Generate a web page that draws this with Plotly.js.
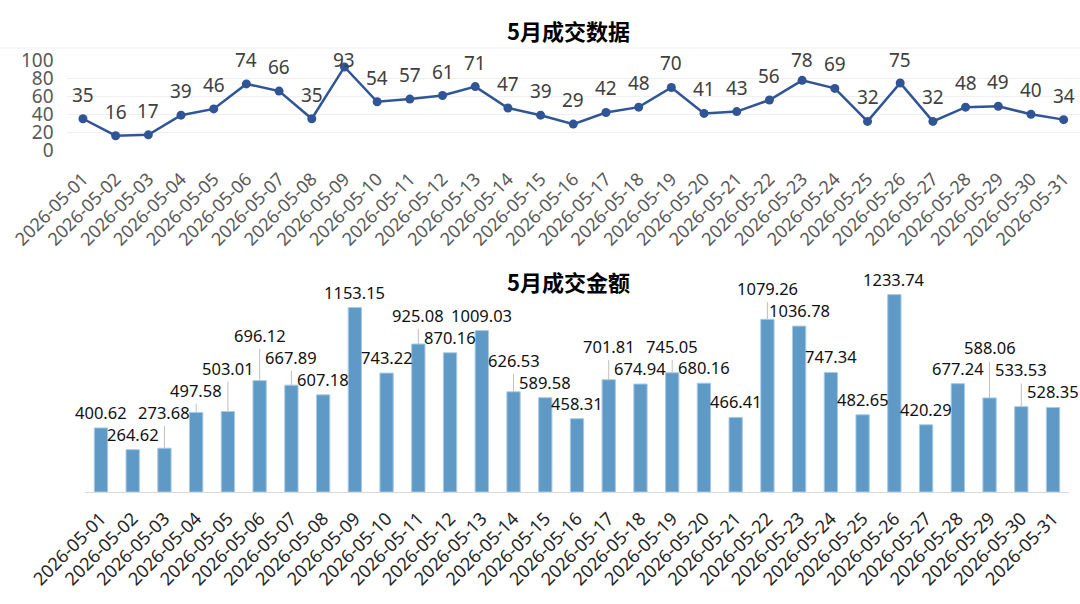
<!DOCTYPE html>
<html>
<head>
<meta charset="utf-8">
<script src="https://cdn.plot.ly/plotly-3.0.1.min.js"></script>
<style>html,body{margin:0;padding:0;background:#fff;}#chart{width:1080px;height:604px;}</style>
</head>
<body>
<div id="chart"></div>
<script>
const dates = ["2026-05-01","2026-05-02","2026-05-03","2026-05-04","2026-05-05","2026-05-06","2026-05-07","2026-05-08","2026-05-09","2026-05-10","2026-05-11","2026-05-12","2026-05-13","2026-05-14","2026-05-15","2026-05-16","2026-05-17","2026-05-18","2026-05-19","2026-05-20","2026-05-21","2026-05-22","2026-05-23","2026-05-24","2026-05-25","2026-05-26","2026-05-27","2026-05-28","2026-05-29","2026-05-30","2026-05-31"];
const counts = [35,16,17,39,46,74,66,35,93,54,57,61,71,47,39,29,42,48,70,41,43,56,78,69,32,75,32,48,49,40,34];
const amounts = [400.62,264.62,273.68,497.58,503.01,696.12,667.89,607.18,1153.15,743.22,925.08,870.16,1009.03,626.53,589.58,458.31,701.81,674.94,745.05,680.16,466.41,1079.26,1036.78,747.34,482.65,1233.74,420.29,677.24,588.06,533.53,528.35];
const yTicks = [0,20,40,60,80,100];
const topTitle = "5月成交数据";
const bottomTitle = "5月成交金额";

const W = 1080, H = 604;
const fontNum = '"Noto Sans", "Noto Sans CJK SC", sans-serif';
const fontCJK = '"Noto Sans CJK SC", "Noto Sans", sans-serif';

const topDomain = [1 - 150/H, 1 - 60.7/H];
const topRangeMax = 100;
const botDomain = [1 - 492/H, 1 - 284/H];
const botRangeMax = 1300;

const idx = dates.map((d, i) => i);

const traces = [
  {
    type: 'scatter', mode: 'lines+markers',
    x: idx, y: counts, xaxis: 'x', yaxis: 'y',
    line: {color: '#2F5597', width: 2.5},
    marker: {color: '#2F5597', size: 9},
    hoverinfo: 'skip', cliponaxis: false
  },
  {
    type: 'bar',
    x: idx, y: amounts, xaxis: 'x2', yaxis: 'y2',
    width: 0.42,
    marker: {color: '#5F9AC6', line: {color: '#A9CBE6', width: 1}},
    hoverinfo: 'skip'
  }
];

const annotations = [];
// top chart labels: above the point, but kept inside the chart area
const kTop = (topDomain[1] - topDomain[0]) * H / topRangeMax;
const baseTop = (1 - topDomain[0]) * H;
const topLabelH = 22, topLimit = 53, topGap = 9;
counts.forEach((v, i) => {
  const py = baseTop - v * kTop;
  let bottom = py - topGap;
  if (bottom - topLabelH < topLimit) bottom = topLimit + topLabelH;
  annotations.push({
    x: i, y: v, xref: 'x', yref: 'y', text: String(v), showarrow: false,
    yanchor: 'bottom', yshift: py - bottom,
    font: {family: fontNum, size: 19, color: '#404040'}
  });
});
// bottom chart labels with overlap avoidance (computed from data, lower bars placed first)
const k = (botDomain[1] - botDomain[0]) * H / botRangeMax;
const basePx = (1 - botDomain[0]) * H;
const lh = 21, gap = 2, tol = 3;
const placed = {};
const order = idx.slice().sort((a, b) => amounts[a] - amounts[b]);
order.forEach(i => {
  const barTop = basePx - amounts[i] * k;
  let bottom = barTop - gap;
  for (let it = 0; it < 6; it++) {
    let moved = false;
    [i - 1, i + 1].forEach(j => {
      const p = placed[j];
      if (!p) return;
      if (bottom - tol > p.top && bottom - lh + tol < p.bottom) {
        bottom = p.top - 1; moved = true;
      }
    });
    if (!moved) break;
  }
  placed[i] = {top: bottom - lh, bottom: bottom, off: barTop - bottom};
});
amounts.forEach((v, i) => {
  const off = placed[i].off;
  const txt = v.toFixed(2);
  const font = {family: fontNum, size: 16.5, color: '#111111'};
  if (off > gap + 6) {
    annotations.push({
      x: i, y: v, xref: 'x2', yref: 'y2', text: txt,
      showarrow: true, arrowhead: 0, arrowwidth: 1, arrowcolor: '#BFBFBF',
      ax: 0, ay: -off, yanchor: 'bottom', standoff: 0, font: font
    });
  } else {
    annotations.push({
      x: i, y: v, xref: 'x2', yref: 'y2', text: txt, showarrow: false,
      yanchor: 'bottom', yshift: off, font: font
    });
  }
});
// titles
annotations.push({
  xref: 'paper', yref: 'paper', x: 568/W, y: 1 - 30/H, text: '<b>' + topTitle + '</b>',
  showarrow: false, xanchor: 'center', yanchor: 'middle',
  font: {family: fontCJK, size: 22, color: '#000000'}
});
annotations.push({
  xref: 'paper', yref: 'paper', x: 568/W, y: 1 - 281/H, text: '<b>' + bottomTitle + '</b>',
  showarrow: false, xanchor: 'center', yanchor: 'middle',
  font: {family: fontCJK, size: 22, color: '#000000'}
});

const layout = {
  width: W, height: H,
  margin: {l: 0, r: 0, t: 0, b: 0},
  paper_bgcolor: '#ffffff', plot_bgcolor: '#ffffff',
  showlegend: false,
  xaxis: {
    domain: [66.6/W, 1], range: [-0.5, 30.5], anchor: 'y',
    tickmode: 'array', tickvals: idx, ticktext: dates, tickangle: -45,
    tickfont: {family: fontNum, size: 18, color: '#595959'},
    showgrid: false, zeroline: false, showline: false, ticks: '', ticklabelstandoff: 14
  },
  yaxis: {
    domain: topDomain, range: [0, topRangeMax], anchor: 'x',
    tickmode: 'array', tickvals: yTicks,
    tickfont: {family: fontNum, size: 19, color: '#595959'},
    showgrid: true, gridcolor: '#EFEFEF', gridwidth: 1, zeroline: false,
    showline: false, ticks: '', ticklabelstandoff: 12
  },
  xaxis2: {
    domain: [85.1/W, 1068.9/W], range: [-0.5, 30.5], anchor: 'y2',
    tickmode: 'array', tickvals: idx, ticktext: dates, tickangle: -45,
    tickfont: {family: fontNum, size: 18, color: '#262626'},
    showgrid: false, zeroline: false, showline: true, linecolor: '#D9D9D9', linewidth: 1, ticks: '',
    ticklabelstandoff: 8
  },
  yaxis2: {
    domain: botDomain, range: [0, botRangeMax], anchor: 'x2',
    visible: false, showgrid: false, zeroline: false
  },
  shapes: [
    {type: 'line', xref: 'paper', yref: 'paper', x0: 0, x1: 1, y0: 1 - 48/H, y1: 1 - 48/H,
     line: {color: '#F0F0F0', width: 1}}
  ],
  annotations: annotations
};

Plotly.newPlot('chart', traces, layout, {displayModeBar: false, staticPlot: true});
</script>
</body>
</html>
